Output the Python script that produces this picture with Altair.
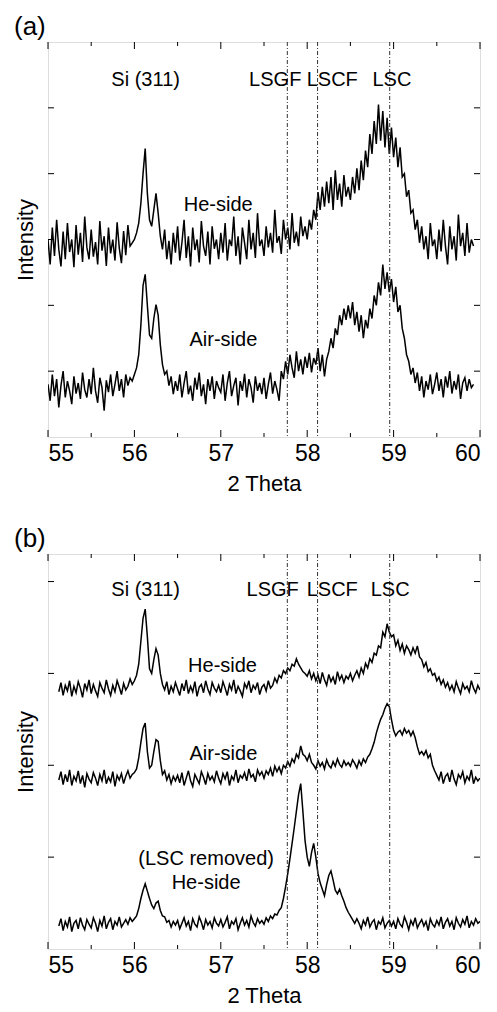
import altair as alt
import pandas as pd

# ---------------- data ----------------
STEP = 0.025
X0_A = 55.0      # first 2-theta of the panel (a) scans
X0_B = 55.125    # first 2-theta of the panel (b) scans

# panel (a) He-side
he_a = [
    300, 262, 318, 275, 330, 285, 259, 312, 270, 325, 281, 300, 258, 322, 277, 310, 266, 335, 288, 270,
    315, 274, 296, 262, 328, 283, 305, 260, 318, 279, 300, 268, 326, 287, 264, 313, 276, 322, 290, 295,
    300, 310, 325, 355, 400, 438, 370, 330, 320, 345, 370, 340, 305, 285, 315, 270, 298, 262, 310, 280,
    320, 268, 295, 330, 272, 305, 259, 318, 284, 300, 265, 328, 290, 275, 312, 262, 320, 286, 300, 270,
    310, 280, 325, 268, 300, 290, 335, 275, 305, 262, 318, 295, 270, 330, 285, 310, 272, 340, 290, 300,
    275, 320, 288, 310, 280, 345, 295, 305, 278, 330, 300, 318, 285, 340, 295, 312, 290, 335, 305, 320,
    300, 330, 315, 345, 330, 372, 345, 380, 350, 388, 355, 395, 345, 405, 360, 385, 350, 398, 365, 380,
    360, 395, 370, 408, 375, 420, 390, 435, 410, 460, 430, 480, 445, 505, 450, 495, 440, 485, 430, 470,
    425, 455, 410, 440, 395, 400, 365, 375, 340, 345, 315, 330, 295, 320, 285, 305, 270, 325, 290, 300,
    270, 315, 282, 330, 290, 262, 320, 285, 305, 268, 338, 290, 310, 275, 325, 280, 300, 290,
]

# panel (a) Air-side
air_a = [
    80, 55, 95, 62, 88, 45, 78, 100, 60, 85, 70, 50, 92, 66, 82, 58, 98, 72, 60, 88,
    65, 105, 70, 52, 90, 75, 40, 86, 68, 95, 62, 80, 100, 70, 88, 60, 95, 78, 90, 85,
    95, 105, 125, 170, 230, 247, 200, 155, 150, 180, 201, 185, 140, 110, 95, 100, 78, 92, 65, 85,
    70, 95, 60, 82, 100, 65, 78, 55, 90, 72, 98, 62, 80, 50, 88, 70, 92, 58, 85, 75,
    68, 95, 55, 82, 100, 62, 78, 90, 48, 85, 70, 96, 60, 88, 75, 52, 92, 70, 82, 65,
    90, 58, 80, 98, 66, 85, 72, 55, 100, 88, 115, 95, 125, 105, 90, 130, 100, 118, 95, 122,
    105, 128, 98, 120, 110, 135, 100, 125, 92, 118, 130, 150, 135, 165, 155, 185, 170, 195, 178, 200,
    180, 205, 170, 190, 160, 185, 150, 178, 165, 195, 180, 215, 200, 235, 215, 262, 225, 250, 220, 240,
    205, 228, 190, 200, 165, 150, 125, 115, 95, 105, 82, 98, 70, 92, 60, 85, 72, 95, 65, 80,
    98, 70, 88, 60, 92, 75, 100, 66, 85, 72, 95, 58, 82, 90, 70, 88, 75, 80,
]

# panel (b) He-side
he_b = [
    280, 290, 276, 287, 281, 292, 275, 286, 279, 291, 284, 274, 289, 282, 293,
    278, 288, 281, 275, 290, 284, 279, 293, 283, 276, 287, 280, 292, 285, 277, 289, 282, 286, 294, 288,
    292, 298, 310, 335, 360, 370, 340, 305, 300, 315, 327, 320, 300, 288, 282, 291, 277, 286, 280, 290,
    283, 276, 289, 281, 293, 278, 286, 280, 291, 275, 285, 288, 279, 292, 283, 277, 290, 284, 280, 287,
    279, 291, 284, 276, 288, 282, 293, 278, 286, 281, 275, 289, 284, 292, 279, 287, 283, 290, 277, 285,
    288, 281, 292, 284, 287, 295, 290, 298, 295, 303, 300, 306, 303, 310, 308, 316, 310, 306, 302, 300,
    297, 303, 294, 300, 292, 298, 289, 301, 293, 287, 299, 291, 296, 288, 302, 293, 298, 290, 297, 294,
    300, 292, 298, 303, 296, 306, 300, 311, 306, 316, 312, 322, 320, 330, 328, 345, 340, 354, 345, 340,
    342, 330, 336, 325, 332, 322, 330, 326, 320, 328, 322, 330, 318, 315, 307, 312, 302, 305, 298, 300,
    292, 296, 288, 293, 285, 290, 282, 287, 280, 291, 284, 278, 289, 283, 286, 280, 292, 284, 279, 287,
    282,
]

# panel (b) Air-side
air_b = [
    184, 193, 179, 190, 182, 195, 178, 188, 183, 194, 180, 189, 176, 191, 185,
    181, 192, 186, 178, 190, 183, 195, 180, 187, 182, 193, 177, 189, 184, 191, 180, 188, 194, 186, 190,
    192, 196, 208, 225, 240, 246, 215, 197, 200, 215, 228, 226, 205, 190, 194, 184, 190, 180, 188, 183,
    189, 181, 192, 178, 186, 194, 183, 177, 190, 185, 180, 193, 187, 179, 191, 184, 188, 182, 194, 186,
    180, 191, 185, 193, 178, 188, 184, 195, 181, 189, 186, 192, 183, 196, 187, 190, 182, 195, 189, 193,
    186, 194, 190, 197, 188, 199, 193, 198, 191, 200, 197, 204, 199, 207, 203, 212, 208, 221, 212, 210,
    205, 212, 203, 200, 196, 205, 199, 203, 196, 206, 200, 197, 204, 199, 207, 201, 198, 205, 200, 203,
    199, 206, 202, 197, 205, 200, 207, 203, 209, 212, 218, 225, 235, 243, 250, 255, 262, 267, 264, 250,
    238, 232, 236, 238, 233, 240, 235, 238, 232, 237, 230, 220, 212, 215, 211, 216, 208, 212, 200, 194,
    189, 184, 193, 180, 188, 191, 182, 195, 185, 179, 190, 186, 193, 181, 188, 184, 195, 180, 187, 183,
    186,
]

# panel (b) He-side, LSC removed
lscrem_b = [
    25, 33, 20, 30, 24, 35, 19, 28, 31, 22, 34, 26, 21, 32, 27,
    23, 34, 28, 19, 31, 25, 36, 22, 29, 33, 21, 30, 26, 35, 24, 28, 32, 27, 34, 30,
    33, 36, 44, 55, 64, 71, 63, 55, 48, 44, 50, 52, 42, 36, 35, 29, 31, 24, 30, 26,
    31, 22, 28, 34, 25, 30, 20, 33, 27, 24, 35, 29, 21, 32, 26, 30, 23, 34, 28, 25,
    32, 24, 29, 35, 22, 30, 27, 33, 21, 28, 34, 26, 31, 24, 36, 29, 25, 33, 28, 31,
    27, 34, 30, 36, 33, 38, 37, 42, 45, 55, 68, 82, 98, 115, 132, 150, 168, 180, 150, 118,
    100, 90, 105, 115, 100, 82, 72, 65, 58, 70, 80, 85, 75, 64, 60, 65, 58, 52, 45, 40,
    36, 32, 28, 33, 28, 22, 31, 26, 35, 24, 29, 32, 21, 30, 27, 34, 23, 28, 31, 25,
    30, 22, 33, 27, 24, 35, 29, 21, 31, 26, 34, 23, 28, 32, 25, 30, 20, 33, 27, 24,
    31, 26, 35, 22, 29, 33, 25, 30, 21, 34, 28, 24, 32, 27, 36, 23, 30, 26, 33, 28,
    30,
]

phase_names = ["LSGF", "LSCF", "LSC"]
phase_pos = [57.77, 58.12, 58.955]

x_major = [55, 56, 57, 58, 59, 60]
x_minor = [55.5, 56.5, 57.5, 58.5, 59.5]
y_ticks_a = [100, 200, 300, 400, 500]
y_ticks_b = [100, 200, 300, 400]
y_domain_a = [0, 600]
y_domain_b = [0, 430]

# annotations: text, 2-theta, intensity
ann_a_text = ["Si (311)", "LSGF", "LSCF", "LSC", "He-side", "Air-side"]
ann_a_x = [56.13, 57.63, 58.29, 58.98, 56.97, 57.03]
ann_a_y = [542, 542, 542, 542, 353, 148]
ann_b_text = ["Si (311)", "LSGF", "LSCF", "LSC", "He-side", "Air-side", "(LSC removed)", "He-side"]
ann_b_x = [56.13, 57.60, 58.29, 58.96, 57.02, 57.03, 56.83, 56.83]
ann_b_y = [391, 391, 391, 391, 308, 212, 98, 72]

assert len(he_a) == len(air_a) == 198
assert len(he_b) == len(air_b) == len(lscrem_b) == 196

FONT = "Liberation Sans"
W, H = 432, 395


def scan(values, x0, name):
    return pd.DataFrame({
        "theta": [round(x0 + STEP * i, 3) for i in range(len(values))],
        "I": values,
        "series": name,
    })


def panel(scans, ydom, yticks, texts, xs_, ys_, label):
    xsc = alt.Scale(domain=[55, 60], nice=False, zero=False)
    ysc = alt.Scale(domain=ydom, nice=False, zero=False)
    xenc = alt.X("theta:Q", scale=xsc, title="2 Theta",
                 axis=alt.Axis(values=x_major, format="d", ticks=False, domain=False,
                               grid=False, labelFontSize=23, titleFontSize=22,
                               labelPadding=5, titlePadding=8, labelFont=FONT,
                               titleFont=FONT, titleFontWeight="normal",
                               labelColor="black", titleColor="black"))
    yenc = alt.Y("I:Q", scale=ysc, title="Intensity",
                 axis=alt.Axis(labels=False, ticks=False, domain=False, grid=False,
                               titleFontSize=22, titlePadding=11, titleFont=FONT,
                               titleFontWeight="normal", titleColor="black"))

    df = pd.concat(scans, ignore_index=True)
    lines = alt.Chart(df).mark_line(color="black", strokeWidth=1.5, clip=True).encode(
        x=xenc, y=yenc, detail="series:N")

    refs = alt.Chart(pd.DataFrame({"theta": phase_pos})).mark_rule(
        color="#333333", strokeWidth=1, strokeDash=[4, 2, 1, 2]).encode(
        x=alt.X("theta:Q", scale=xsc, title="2 Theta"))

    txt = alt.Chart(pd.DataFrame({"theta": xs_, "I": ys_, "label": texts})).mark_text(
        font=FONT, fontSize=20, align="center", baseline="middle", color="black").encode(
        x=alt.X("theta:Q", scale=xsc, title="2 Theta"),
        y=alt.Y("I:Q", scale=ysc, title="Intensity"),
        text="label:N")

    major_df = pd.DataFrame({"theta": x_major})
    minor_df = pd.DataFrame({"theta": x_minor})
    tick_layers = []
    for d, ln in ((major_df, 7), (minor_df, 4)):
        tick_layers.append(alt.Chart(d).mark_rule(color="black", strokeWidth=1).encode(
            x=alt.X("theta:Q", scale=xsc, title="2 Theta"),
            y=alt.value(H), y2=alt.value(H - ln)))
        tick_layers.append(alt.Chart(d).mark_rule(color="black", strokeWidth=1).encode(
            x=alt.X("theta:Q", scale=xsc, title="2 Theta"),
            y=alt.value(0), y2=alt.value(ln)))
    ydf = pd.DataFrame({"I": yticks})
    tick_layers.append(alt.Chart(ydf).mark_rule(color="black", strokeWidth=1).encode(
        y=alt.Y("I:Q", scale=ysc, title="Intensity"), x=alt.value(0), x2=alt.value(6)))
    tick_layers.append(alt.Chart(ydf).mark_rule(color="black", strokeWidth=1).encode(
        y=alt.Y("I:Q", scale=ysc, title="Intensity"), x=alt.value(W), x2=alt.value(W - 6)))

    return alt.layer(lines, refs, txt, *tick_layers).properties(
        width=W, height=H,
        title=alt.TitleParams(label, anchor="start", frame="bounds", fontSize=26,
                              fontWeight="normal", font=FONT, color="black", offset=2))


pa = panel([scan(he_a, X0_A, "He-side"), scan(air_a, X0_A, "Air-side")],
           y_domain_a, y_ticks_a, ann_a_text, ann_a_x, ann_a_y, "(a)")
pb = panel([scan(he_b, X0_B, "He-side"), scan(air_b, X0_B, "Air-side"),
            scan(lscrem_b, X0_B, "He-side LSC removed")],
           y_domain_b, y_ticks_b, ann_b_text, ann_b_x, ann_b_y, "(b)")

chart = alt.vconcat(pa, pb, spacing=30).configure_view(
    stroke="black", strokeWidth=1.2).configure(background="white")

chart.save("out.html", embed_options={"renderer": "svg", "actions": False})
